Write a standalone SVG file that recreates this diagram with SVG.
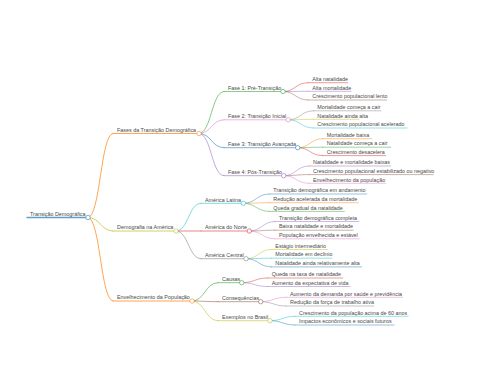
<svg xmlns="http://www.w3.org/2000/svg" width="480" height="384" viewBox="0 0 480 384">
<style>
text{font-family:"Liberation Sans",Arial,sans-serif;font-size:5.4px;fill:#4a4a4a}
path{fill:none;stroke-linecap:round;stroke-opacity:0.7}
.w0{stroke-width:1.3}.w1{stroke-width:1}.w2{stroke-width:0.8}.w3{stroke-width:0.65}
circle{fill:#fff;stroke-width:0.7;stroke-opacity:0.8}
.blue{stroke:#1f77b4}.orange{stroke:#ff7f0e}.green{stroke:#2ca02c}.red{stroke:#d62728}.purple{stroke:#9467bd}.brown{stroke:#8c564b}.pink{stroke:#e377c2}.gray{stroke:#7f7f7f}.olive{stroke:#bcbd22}.cyan{stroke:#17becf}
</style>
<rect width="480" height="384" fill="#fff"/>
<g id="connectors">
<path class="w1 orange" d="M88,217.5 C100.5,217.5 100.5,133.5 113,133.5"/>
<path class="w1 olive" d="M88,217.5 C100.5,217.5 100.5,231 113,231"/>
<path class="w1 orange" d="M88,217.5 C100.5,217.5 100.5,301 113,301"/>
<path class="w2 green" d="M199,133.5 C211.5,133.5 211.5,91.5 224,91.5"/>
<path class="w2 pink" d="M199,133.5 C211.5,133.5 211.5,119.8 224,119.8"/>
<path class="w2 blue" d="M199,133.5 C211.5,133.5 211.5,147.7 224,147.7"/>
<path class="w2 purple" d="M199,133.5 C211.5,133.5 211.5,175.7 224,175.7"/>
<path class="w3 red" d="M283,91.5 C295.5,91.5 295.5,82.7 308,82.7"/>
<path class="w3 purple" d="M283,91.5 C295.5,91.5 295.5,91.3 308,91.3"/>
<path class="w3 brown" d="M283,91.5 C295.5,91.5 295.5,100 308,100"/>
<path class="w3 gray" d="M288.3,119.8 C300.8,119.8 300.8,110.8 313.3,110.8"/>
<path class="w3 olive" d="M288.3,119.8 C300.8,119.8 300.8,119.3 313.3,119.3"/>
<path class="w3 cyan" d="M288.3,119.8 C300.8,119.8 300.8,128 313.3,128"/>
<path class="w3 orange" d="M297.7,147.7 C310.2,147.7 310.2,138.7 322.7,138.7"/>
<path class="w3 green" d="M297.7,147.7 C310.2,147.7 310.2,147.2 322.7,147.2"/>
<path class="w3 red" d="M297.7,147.7 C310.2,147.7 310.2,155.6 322.7,155.6"/>
<path class="w3 purple" d="M283.7,175.7 C296.3,175.7 296.3,166 309,166"/>
<path class="w3 brown" d="M283.7,175.7 C296.3,175.7 296.3,174.6 309,174.6"/>
<path class="w3 pink" d="M283.7,175.7 C296.3,175.7 296.3,183.3 309,183.3"/>
<path class="w2 cyan" d="M176,231 C188.5,231 188.5,203.3 201,203.3"/>
<path class="w2 red" d="M176,231 C188.5,231 188.5,231 201,231"/>
<path class="w2 gray" d="M176,231 C188.5,231 188.5,258.7 201,258.7"/>
<path class="w3 blue" d="M243.3,203.3 C256.3,203.3 256.3,194 269.3,194"/>
<path class="w3 orange" d="M243.3,203.3 C256.3,203.3 256.3,202.7 269.3,202.7"/>
<path class="w3 green" d="M243.3,203.3 C256.3,203.3 256.3,211.4 269.3,211.4"/>
<path class="w3 purple" d="M249.3,231 C262.2,231 262.2,221.5 275,221.5"/>
<path class="w3 brown" d="M249.3,231 C262.2,231 262.2,230.2 275,230.2"/>
<path class="w3 pink" d="M249.3,231 C262.2,231 262.2,238.8 275,238.8"/>
<path class="w3 olive" d="M246,258.7 C258.7,258.7 258.7,249.5 271.3,249.5"/>
<path class="w3 cyan" d="M246,258.7 C258.7,258.7 258.7,258.2 271.3,258.2"/>
<path class="w3 blue" d="M246,258.7 C258.7,258.7 258.7,266.9 271.3,266.9"/>
<path class="w2 green" d="M192,301 C205,301 205,282.7 218,282.7"/>
<path class="w2 brown" d="M192,301 C205,301 205,301.7 218,301.7"/>
<path class="w2 olive" d="M192,301 C205,301 205,320.7 218,320.7"/>
<path class="w3 red" d="M241.7,282.7 C254.7,282.7 254.7,278 267.7,278"/>
<path class="w3 purple" d="M241.7,282.7 C254.7,282.7 254.7,286.5 267.7,286.5"/>
<path class="w3 pink" d="M260.7,301.7 C273.3,301.7 273.3,297.3 286,297.3"/>
<path class="w3 gray" d="M260.7,301.7 C273.3,301.7 273.3,306 286,306"/>
<path class="w3 cyan" d="M270,320.7 C282.5,320.7 282.5,316.3 295,316.3"/>
<path class="w3 blue" d="M270,320.7 C282.5,320.7 282.5,325 295,325"/>
</g>
<g id="root"><path class="w0 blue" d="M27,217.5 H88"/><circle class="blue" cx="88" cy="217.5" r="2.2"/><text x="30" y="215.6">Transição Demográfica</text></g>
<g id="fases"><path class="w1 orange" d="M113,133.5 H199"/><circle class="orange" cx="199" cy="133.5" r="2.2"/><text x="117" y="131.7">Fases da Transição Demográfica</text></g>
<g id="demografia"><path class="w1 olive" d="M113,231 H176"/><circle class="olive" cx="176" cy="231" r="2.2"/><text x="117" y="229.2">Demografia na América</text></g>
<g id="envelhecimento"><path class="w1 orange" d="M113,301 H192"/><circle class="orange" cx="192" cy="301" r="2.2"/><text x="117" y="299.2">Envelhecimento da População</text></g>
<g id="fase1"><path class="w2 green" d="M224,91.5 H283"/><circle class="green" cx="283" cy="91.5" r="2.2"/><text x="228" y="89.7">Fase 1: Pré-Transição</text></g>
<g id="fase2"><path class="w2 pink" d="M224,119.8 H288.3"/><circle class="pink" cx="288.3" cy="119.8" r="2.2"/><text x="228" y="118">Fase 2: Transição Inicial</text></g>
<g id="fase3"><path class="w2 blue" d="M224,147.7 H297.7"/><circle class="blue" cx="297.7" cy="147.7" r="2.2"/><text x="228" y="145.9">Fase 3: Transição Avançada</text></g>
<g id="fase4"><path class="w2 purple" d="M224,175.7 H283.7"/><circle class="purple" cx="283.7" cy="175.7" r="2.2"/><text x="228" y="173.9">Fase 4: Pós-Transição</text></g>
<g id="f1a"><path class="w3 red" d="M308,82.7 H347.7"/><text x="312.3" y="80.9">Alta natalidade</text></g>
<g id="f1b"><path class="w3 purple" d="M308,91.3 H351"/><text x="312.3" y="89.5">Alta mortalidade</text></g>
<g id="f1c"><path class="w3 brown" d="M308,100 H386.7"/><text x="312.3" y="98.2">Crescimento populacional lento</text></g>
<g id="f2a"><path class="w3 gray" d="M313.3,110.8 H381"/><text x="317.3" y="109">Mortalidade começa a cair</text></g>
<g id="f2b"><path class="w3 olive" d="M313.3,119.3 H359"/><text x="317.3" y="117.5">Natalidade ainda alta</text></g>
<g id="f2c"><path class="w3 cyan" d="M313.3,128 H407"/><text x="317.3" y="126.2">Crescimento populacional acelerado</text></g>
<g id="f3a"><path class="w3 orange" d="M322.7,138.7 H371.7"/><text x="326.7" y="136.9">Mortalidade baixa</text></g>
<g id="f3b"><path class="w3 green" d="M322.7,147.2 H390.7"/><text x="326.7" y="145.4">Natalidade começa a cair</text></g>
<g id="f3c"><path class="w3 red" d="M322.7,155.6 H385.7"/><text x="326.7" y="153.8">Crescimento desacelera</text></g>
<g id="f4a"><path class="w3 purple" d="M309,166 H390.7"/><text x="313" y="164.2">Natalidade e mortalidade baixas</text></g>
<g id="f4b"><path class="w3 brown" d="M309,174.6 H433.3"/><text x="313" y="172.8">Crescimento populacional estabilizado ou negativo</text></g>
<g id="f4c"><path class="w3 pink" d="M309,183.3 H385.7"/><text x="313" y="181.5">Envelhecimento da população</text></g>
<g id="al"><path class="w2 cyan" d="M201,203.3 H243.3"/><circle class="cyan" cx="243.3" cy="203.3" r="2.2"/><text x="205" y="201.5">América Latina</text></g>
<g id="an"><path class="w2 red" d="M201,231 H249.3"/><circle class="red" cx="249.3" cy="231" r="2.2"/><text x="205" y="229.2">América do Norte</text></g>
<g id="ac"><path class="w2 gray" d="M201,258.7 H246"/><circle class="gray" cx="246" cy="258.7" r="2.2"/><text x="205" y="256.9">América Central</text></g>
<g id="ala"><path class="w3 blue" d="M269.3,194 H366.7"/><text x="273.3" y="192.2">Transição demográfica em andamento</text></g>
<g id="alb"><path class="w3 orange" d="M269.3,202.7 H358.3"/><text x="273.3" y="200.9">Redução acelerada da mortalidade</text></g>
<g id="alc"><path class="w3 green" d="M269.3,211.4 H344.3"/><text x="273.3" y="209.6">Queda gradual da natalidade</text></g>
<g id="ana"><path class="w3 purple" d="M275,221.5 H359"/><text x="279" y="219.7">Transição demográfica completa</text></g>
<g id="anb"><path class="w3 brown" d="M275,230.2 H353.3"/><text x="279" y="228.4">Baixa natalidade e mortalidade</text></g>
<g id="anc"><path class="w3 pink" d="M275,238.8 H359.3"/><text x="279" y="237">População envelhecida e estável</text></g>
<g id="aca"><path class="w3 olive" d="M271.3,249.5 H327.7"/><text x="275.3" y="247.7">Estágio intermediário</text></g>
<g id="acb"><path class="w3 cyan" d="M271.3,258.2 H332"/><text x="275.3" y="256.4">Mortalidade em declínio</text></g>
<g id="acc"><path class="w3 blue" d="M271.3,266.9 H361.7"/><text x="275.3" y="265.1">Natalidade ainda relativamente alta</text></g>
<g id="causas"><path class="w2 green" d="M218,282.7 H241.7"/><circle class="green" cx="241.7" cy="282.7" r="2.2"/><text x="222" y="280.9">Causas</text></g>
<g id="consequencias"><path class="w2 brown" d="M218,301.7 H260.7"/><circle class="brown" cx="260.7" cy="301.7" r="2.2"/><text x="222" y="299.9">Consequências</text></g>
<g id="exemplos"><path class="w2 olive" d="M218,320.7 H270"/><circle class="olive" cx="270" cy="320.7" r="2.2"/><text x="222" y="318.9">Exemplos no Brasil</text></g>
<g id="ca"><path class="w3 red" d="M267.7,278 H342.7"/><text x="271.7" y="276.2">Queda na taxa de natalidade</text></g>
<g id="cb"><path class="w3 purple" d="M267.7,286.5 H350"/><text x="271.7" y="284.7">Aumento da expectativa de vida</text></g>
<g id="coa"><path class="w3 pink" d="M286,297.3 H402.7"/><text x="290" y="295.5">Aumento da demanda por saúde e previdência</text></g>
<g id="cob"><path class="w3 gray" d="M286,306 H374"/><text x="290" y="304.2">Redução da força de trabalho ativa</text></g>
<g id="exa"><path class="w3 cyan" d="M295,316.3 H408.3"/><text x="299" y="314.5">Crescimento da população acima de 60 anos</text></g>
<g id="exb"><path class="w3 blue" d="M295,325 H394"/><text x="299" y="323.2">Impactos econômicos e sociais futuros</text></g>
</svg>
